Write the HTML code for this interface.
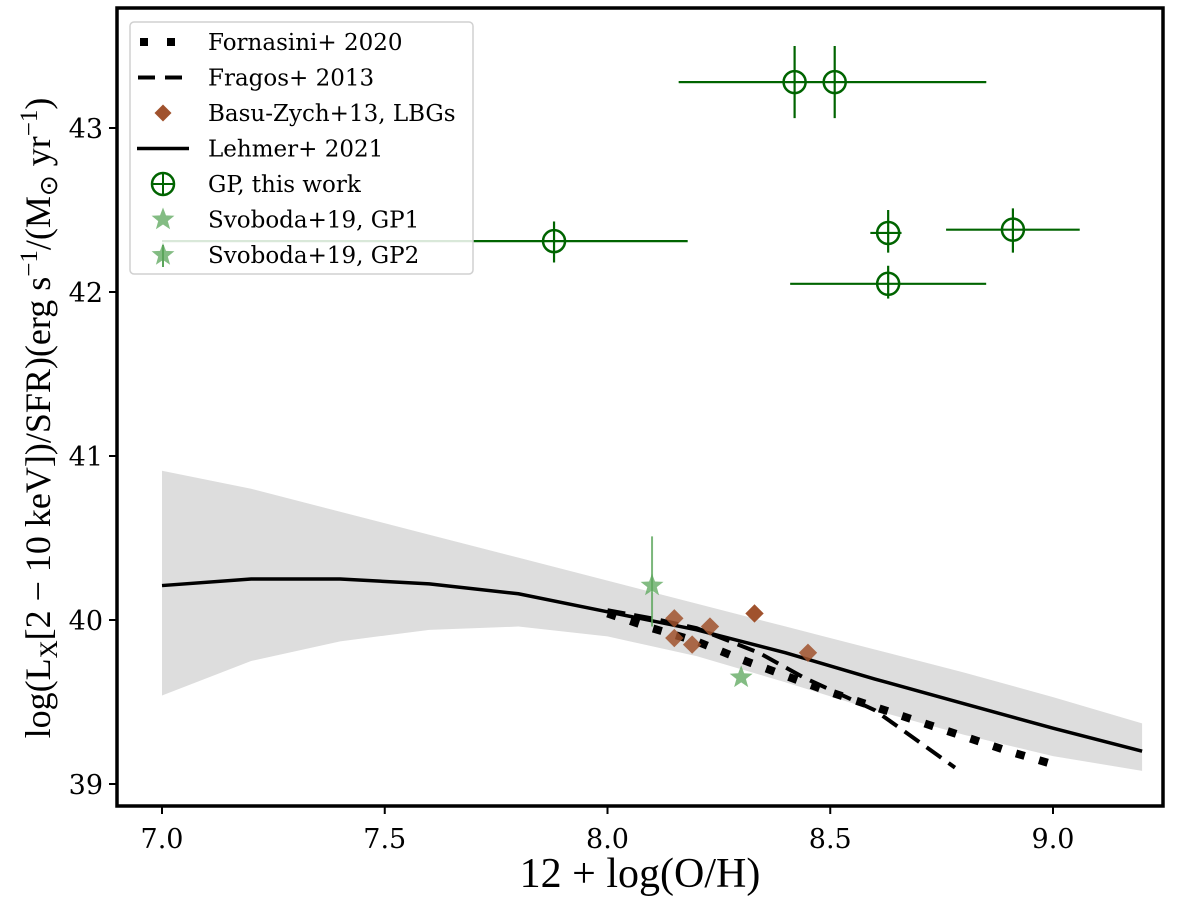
<!DOCTYPE html>
<html><head><meta charset="utf-8"><style>
body{margin:0;background:#fff;}
svg text{font-family:"DejaVu Serif","Liberation Serif",serif;}
</style></head><body>
<svg id="chart" width="1200" height="912" xmlns="http://www.w3.org/2000/svg"></svg>
<script>
const xTicks=[7.0,7.5,8.0,8.5,9.0];
const xTickLabels=["7.0","7.5","8.0","8.5","9.0"];
const yTicks=[39,40,41,42,43];
const yTickLabels=["39","40","41","42","43"];
const lehmerX=[7.0,7.2,7.4,7.6,7.8,8.0,8.2,8.4,8.6,8.8,9.0,9.2];
const lehmerY=[40.21,40.25,40.25,40.22,40.16,40.05,39.94,39.8,39.64,39.49,39.34,39.2];
const bandHi=[40.91,40.8,40.66,40.52,40.38,40.24,40.1,39.96,39.82,39.68,39.53,39.37];
const bandLo=[39.54,39.75,39.87,39.94,39.96,39.9,39.78,39.62,39.45,39.3,39.17,39.08];
const fornX=[8.0,8.1,8.2,8.3,8.4,8.5,8.6,8.7,8.8,8.9,9.0];
const fornY=[40.04,39.95,39.87,39.76,39.66,39.56,39.47,39.38,39.29,39.2,39.12];
const fragX=[8.0,8.1,8.2,8.34,8.44,8.6,8.78];
const fragY=[40.06,40.01,39.95,39.8,39.65,39.45,39.1];
const basuX=[8.15,8.15,8.19,8.23,8.33,8.45];
const basuY=[40.01,39.89,39.85,39.96,40.04,39.8];
const gpX=[8.42,8.51,7.88,8.63,8.91,8.63];
const gpY=[43.28,43.28,42.31,42.36,42.38,42.05];
const gpXlo=[8.16,8.16,7.0,8.59,8.76,8.41];
const gpXhi=[8.85,8.85,8.18,8.66,9.06,8.85];
const gpYlo=[43.06,43.06,42.18,42.24,42.24,41.96];
const gpYhi=[43.5,43.5,42.43,42.5,42.51,42.16];
const sv1X=[8.30], sv1Y=[39.65];
const sv2X=[8.10], sv2Y=[40.21], sv2Ylo=[39.96], sv2Yhi=[40.51];

const L=117,R=1163,T=8,B=806;
const sx=v=>162+(v-7)*445.5;
const sy=v=>620-(v-40)*164;
const svg=document.getElementById('chart');
const NS='http://www.w3.org/2000/svg';
function mk(tag,attrs,parent){const e=document.createElementNS(NS,tag);for(const k in attrs)e.setAttribute(k,attrs[k]);(parent||svg).appendChild(e);return e;}
function pts(xs,ys){return xs.map((x,i)=>sx(x)+','+sy(ys[i])).join(' ');}
function star(cx,cy,r){let p=[];for(let i=0;i<10;i++){const a=-Math.PI/2+i*Math.PI/5;const rr=i%2?r*0.42:r;p.push((cx+rr*Math.cos(a)).toFixed(1)+','+(cy+rr*Math.sin(a)).toFixed(1));}return p.join(' ');}

let band=mk('polygon',{points:pts(lehmerX,bandHi)+' '+pts(lehmerX.slice().reverse(),bandLo.slice().reverse()),fill:'#dddddd'});


gpX.forEach((x,i)=>{
  const g=mk('g',{});
  
  
  mk('line',{x1:sx(Math.max(gpXlo[i],6.9)),x2:sx(gpXhi[i]),y1:sy(gpY[i]),y2:sy(gpY[i]),stroke:'#006400','stroke-width':2.2},g);
  mk('line',{x1:sx(x),x2:sx(x),y1:sy(gpYlo[i]),y2:sy(gpYhi[i]),stroke:'#006400','stroke-width':2.2},g);
  mk('circle',{cx:sx(x),cy:sy(gpY[i]),r:11,fill:'none',stroke:'#006400','stroke-width':2.5},g);
});
let lh=mk('polyline',{points:pts(lehmerX,lehmerY),fill:'none',stroke:'#000','stroke-width':3.5});


let fr=mk('polyline',{points:pts(fragX,fragY),fill:'none',stroke:'#000','stroke-width':4,'stroke-dasharray':'18,9'});


let fo=mk('polyline',{points:pts(fornX,fornY),fill:'none',stroke:'#000','stroke-width':8,'stroke-dasharray':'9,15'});


basuX.forEach((x,i)=>{
  const d=mk('rect',{x:sx(x)-6.5,y:sy(basuY[i])-6.5,width:13,height:13,fill:'#a0522d','fill-opacity':i==4?1:0.85,transform:`rotate(45 ${sx(x)} ${sy(basuY[i])})`});
  
  
});
sv2X.forEach((x,i)=>{
  const e=mk('line',{x1:sx(x),x2:sx(x),y1:sy(sv2Ylo[i]),y2:sy(sv2Yhi[i]),stroke:'#5aa55a','stroke-width':2,'stroke-opacity':0.8});
  
  
  const s=mk('polygon',{points:star(sx(x),sy(sv2Y[i]),12),fill:'#5aa55a','fill-opacity':0.75});
  
  
});
sv1X.forEach((x,i)=>{
  const s=mk('polygon',{points:star(sx(x),sy(sv1Y[i]),12),fill:'#5aa55a','fill-opacity':0.75});
  
  
});
let fr2=mk('rect',{x:L,y:T,width:R-L,height:B-T,fill:'none',stroke:'#000','stroke-width':3.5});


xTicks.forEach((v,i)=>{
  mk('line',{x1:sx(v),x2:sx(v),y1:B,y2:B+8,stroke:'#000','stroke-width':2});
  const t=mk('text',{x:sx(v),y:B+42,'text-anchor':'middle','font-size':27});
  t.textContent=xTickLabels[i];
  
  
});
yTicks.forEach((v,i)=>{
  mk('line',{x1:L-8,x2:L,y1:sy(v),y2:sy(v),stroke:'#000','stroke-width':2});
  const t=mk('text',{x:L-14,y:sy(v)+10,'text-anchor':'end','font-size':27});
  t.textContent=yTickLabels[i];
  
  
});
let xt=mk('text',{x:640,y:887,'text-anchor':'middle','font-size':42,style:'font-family:"Liberation Serif",serif'});
xt.textContent='12 + log(O/H)';


let yt=mk('text',{x:0,y:0,'text-anchor':'middle','font-size':36,transform:'translate(50,418) rotate(-90)',style:'font-family:"Liberation Serif",serif'});
yt.innerHTML='log(L<tspan font-size="25" dy="7">X</tspan><tspan dy="-7">[2 − 10 keV])/SFR)(erg s</tspan><tspan font-size="25" dy="-13">−1</tspan><tspan dy="13">/(M</tspan><tspan font-size="25" dy="7">⊙</tspan><tspan dy="-7"> yr</tspan><tspan font-size="25" dy="-13">−1</tspan><tspan dy="13">)</tspan>';


const lg=mk('g',{});


mk('rect',{x:130,y:22,width:343,height:252,rx:4,fill:'#fff','fill-opacity':0.85,stroke:'#d0d0d0','stroke-width':1.5},lg);
const labels=['Fornasini+ 2020','Fragos+ 2013','Basu-Zych+13, LBGs','Lehmer+ 2021','GP, this work','Svoboda+19, GP1','Svoboda+19, GP2'];
labels.forEach((s,i)=>{
  const y=42+i*35.5;const cx=163;
  if(i==0){mk('rect',{x:140,y:y-4,width:8,height:8,fill:'#000'},lg);mk('rect',{x:167,y:y-4,width:8,height:8,fill:'#000'},lg);}
  if(i==1){mk('line',{x1:138,x2:182,y1:y,y2:y,stroke:'#000','stroke-width':4,'stroke-dasharray':'17,10'},lg);}
  if(i==2){mk('rect',{x:cx-6,y:y-6,width:12,height:12,fill:'#a0522d',transform:`rotate(45 ${cx} ${y})`},lg);}
  if(i==3){mk('line',{x1:137,x2:189,y1:y,y2:y,stroke:'#000','stroke-width':3.5},lg);}
  if(i==4){mk('circle',{cx:cx,cy:y,r:11,fill:'none',stroke:'#006400','stroke-width':2.5},lg);mk('line',{x1:cx-11,x2:cx+11,y1:y,y2:y,stroke:'#006400','stroke-width':2},lg);mk('line',{x1:cx,x2:cx,y1:y-11,y2:y+11,stroke:'#006400','stroke-width':2},lg);}
  if(i==5||i==6){mk('polygon',{points:star(cx,y,12),fill:'#5aa55a','fill-opacity':0.75},lg);if(i==6)mk('line',{x1:cx,x2:cx,y1:y-10,y2:y+12,stroke:'#5aa55a','stroke-width':2},lg);}
  const t=mk('text',{x:208,y:y+8,'font-size':23},lg);
  t.textContent=s;
  
  
});
</script>
</body></html>
